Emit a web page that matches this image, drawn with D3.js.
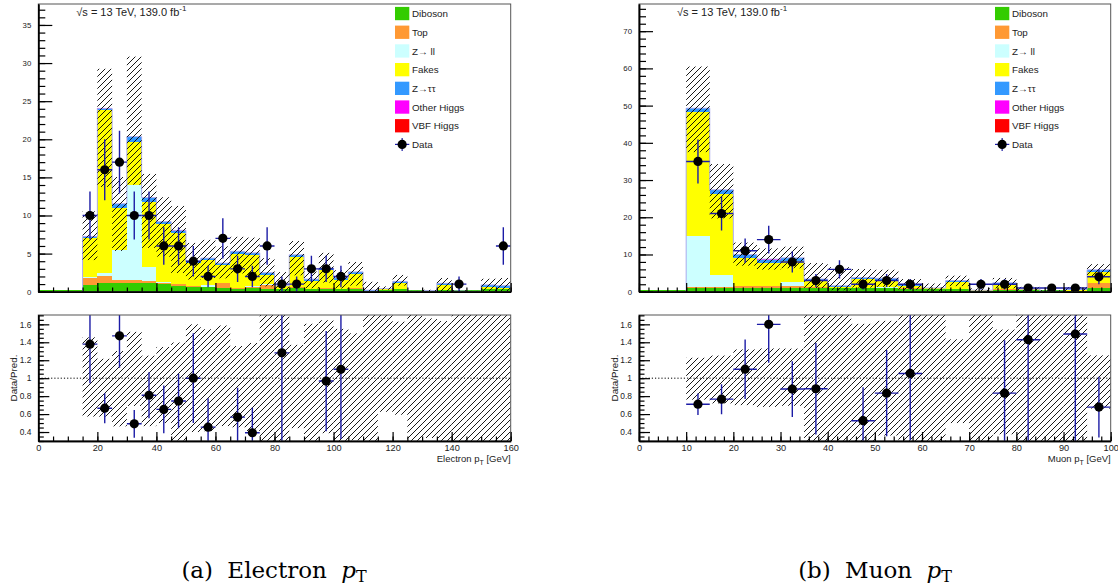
<!DOCTYPE html>
<html>
<head>
<meta charset="utf-8">
<script src="https://cdn.jsdelivr.net/npm/d3@7"></script>
<style>
  body { margin: 0; background: #fff; }
  svg { display: block; }
  text { font-family: "Liberation Sans", Arial, sans-serif; fill: #222; }
  text.caption { font-family: "DejaVu Serif", "Liberation Serif", serif; fill: #000; }
</style>
</head>
<body>
<svg id="chart" width="1118" height="585"></svg>
<script>
// stack components (bottom -> top) and legend
const stackKeys = ['Diboson', 'Top', 'Z\u2192 ll', 'Fakes', 'Z\u2192\u03c4\u03c4', 'Other Higgs', 'VBF Higgs'];
const stackColors = ['#33cc00', '#ff9933', '#ccffff', '#ffff00', '#3399ff', '#ff00ff', '#ff0000'];

// electron pT, 5 GeV bins (lower edges)
const elBinLo   = [15, 20, 25, 30, 35, 40, 45, 50, 55, 60, 65, 70, 75, 80, 85, 90, 95, 100, 105, 110, 115, 120, 125, 130, 135, 140, 145, 150, 155];
const elDiboson = [0.9, 1.1, 1.1, 1.1, 1.1, 1.0, 0.7, 0.6, 0.6, 0.5, 0.3, 0.55, 0.3, 0.3, 0.5, 0.4, 0.4, 0.4, 0.4, 0.1, 0.2, 0.3, 0.05, 0.05, 0.2, 0.1, 0.05, 0.3, 0.3];
const elTop     = [0.9, 1.0, 0.5, 0.5, 0.25, 0.2, 0.3, 0.1, 0.05, 0.6, 0.15, 0.1, 0.6, 0.05, 0.1, 0, 0.05, 0, 0.05, 0, 0, 0, 0, 0, 0, 0, 0, 0, 0];
const elZll     = [0.1, 0.3, 3.9, 12.4, 1.95, 0.1, 0.05, 0.1, 0.25, 0.05, 0.05, 0.05, 0.05, 0, 0, 0, 0, 0, 0, 0, 0, 0, 0, 0, 0, 0, 0, 0, 0];
const elFakes   = [5.1, 21.4, 5.5, 5.7, 8.5, 7.6, 6.6, 3.0, 3.3, 2.4, 4.4, 4.1, 1.3, 0.35, 3.9, 1.0, 2.4, 1.12, 1.9, 0.05, 0.1, 0.8, 0, 0, 0.7, 0, 0, 0.35, 0.2];
const elZtt     = [0.2, 0.2, 0.5, 0.6, 0.5, 0.2, 0.35, 0.2, 0.2, 0.2, 0.4, 0.3, 0.25, 0.08, 0.35, 0.25, 0.25, 0.3, 0.25, 0.05, 0, 0.25, 0, 0.1, 0.2, 0, 0, 0.25, 0.3];
const elOtherH  = [0.05, 0.05, 0.05, 0.05, 0.05, 0.1, 0.05, 0, 0, 0, 0, 0, 0, 0, 0, 0, 0, 0, 0, 0, 0.1, 0, 0, 0, 0, 0, 0, 0, 0];
const elVbfH    = [0, 0, 0, 0, 0, 0, 0, 0, 0, 0, 0, 0, 0, 0, 0, 0, 0, 0, 0, 0, 0, 0, 0, 0, 0, 0, 0, 0, 0];
const elErrUp   = [3.3, 5.2, 3.5, 10.5, 3.1, 3.2, 3.2, 2.4, 2.4, 2.2, 1.9, 2.0, 1.9, 1.8, 1.8, 1.0, 2.0, 1.0, 1.3, 1.1, 0.3, 0.85, 0.05, 0.1, 0.7, 0.1, 0.05, 0.8, 1.0];
const elErrDn   = [3.1, 10.3, 6.2, 6.3, 6.6, 4.6, 5.6, 2.4, 2.6, 2.0, 2.9, 3.0, 1.8, 0.78, 2.7, 1.2, 1.9, 1.4, 1.8, 0.2, 0.15, 0.55, 0.05, 0.1, 1.1, 0.1, 0.05, 0.9, 0.8];
const elDataX   = [17.5, 22.5, 27.5, 32.5, 37.5, 42.5, 47.5, 52.5, 57.5, 62.5, 67.5, 72.5, 77.5, 82.5, 87.5, 92.5, 97.5, 102.5, 142.5, 157.5];
const elDataY   = [10, 16, 17, 10, 10, 6, 6, 4, 2, 7, 3, 2, 6, 1, 1, 3, 3, 2, 1, 6];

// muon pT, 5 GeV bins (lower edges)
const muBinLo   = [10, 15, 20, 25, 30, 35, 40, 45, 50, 55, 60, 65, 70, 75, 80, 85, 90, 95];
const muDiboson = [0.9, 0.9, 0.9, 0.9, 0.9, 0.9, 0.9, 0.9, 0.9, 0.8, 0.6, 0.6, 0.3, 0.5, 0.4, 0.1, 0.3, 1.0];
const muTop     = [0.4, 0.4, 0.5, 0.5, 0.5, 0.3, 0.1, 0.1, 0.1, 0.1, 0, 0.1, 0, 0.1, 0, 0, 0, 1.3];
const muZll     = [13.6, 3.3, 0.1, 0.1, 1.3, 0, 0, 0, 0.2, 0, 0, 0, 0, 0, 0, 0, 0, 0];
const muFakes   = [33.5, 21.6, 7.6, 6.3, 5.6, 1.7, 0.3, 2.3, 1.9, 0.6, 0.3, 2.0, 0.1, 1.5, 0.2, 0, 0.2, 2.9];
const muZtt     = [0.9, 1.2, 0.9, 0.8, 0.8, 0.5, 0.3, 0.5, 0.5, 0.4, 0.1, 0.3, 0, 0.3, 0.1, 0, 0.17, 0.7];
const muOtherH  = [0, 0, 0, 0.15, 0, 0, 0, 0, 0, 0, 0, 0, 0, 0, 0, 0, 0, 0];
const muVbfH    = [0, 0, 0, 0, 0, 0, 0, 0, 0, 0, 0, 0, 0, 0, 0, 0, 0, 0];
const muErrUp   = [11.2, 6.9, 3.2, 2.9, 3.0, 4.3, 5.0, 2.3, 2.3, 1.5, 1.2, 1.3, 0.5, 1.3, 0.6, 0.3, 0.6, 1.5];
const muErrDn   = [11.8, 7.7, 3.0, 2.8, 2.8, 2.4, 1.2, 2.7, 2.3, 1.4, 0.8, 1.5, 0.3, 1.5, 0.5, 0.1, 0.5, 2.0];
const muDataX   = [12.5, 17.5, 22.5, 27.5, 32.5, 37.5, 42.5, 47.5, 52.5, 57.5, 72.5, 77.5, 82.5, 87.5, 92.5, 97.5];
const muDataY   = [35, 21, 11, 14, 8, 3, 6, 2, 3, 2, 2, 2, 1, 1, 1, 4];

// axis ticks
const elXTicks  = [0, 20, 40, 60, 80, 100, 120, 140, 160];
const muXTicks  = [0, 10, 20, 30, 40, 50, 60, 70, 80, 90, 100];
const elYTicks  = [0, 5, 10, 15, 20, 25, 30, 35];
const muYTicks  = [0, 10, 20, 30, 40, 50, 60, 70];
const ratioTicks  = [0.4, 0.6, 0.8, 1, 1.2, 1.4, 1.6];
const ratioLabels = ['0.4', '0.6', '0.8', '1', '1.2', '1.4', '1.6'];

const binWidth = 5;
const mainTop = 4, mainBottom = 291.7;
const ratioTop = 315, ratioBottom = 441;
const ratioDomain = [0.3, 1.704];
const errColor = '#1c1ca6';

const svg = d3.select('#chart');
const defs = svg.append('defs');
defs.append('pattern')
  .attr('id', 'hatch')
  .attr('patternUnits', 'userSpaceOnUse')
  .attr('width', 6).attr('height', 6)
  .append('path')
  .attr('d', 'M-1,1 l2,-2 M0,6 l6,-6 M5,7 l2,-2')
  .attr('stroke', '#000')
  .attr('stroke-width', 0.9);

function drawPanel(p) {
  const x = d3.scaleLinear().domain(p.xDomain).range([p.left, p.right]);
  const y = d3.scaleLinear().domain(p.yDomain).range([mainBottom, mainTop]);
  const yr = d3.scaleLinear().domain(ratioDomain).range([ratioBottom, ratioTop]);

  // clip regions
  defs.append('clipPath').attr('id', p.id + '-main')
    .append('rect').attr('x', p.left).attr('y', mainTop)
    .attr('width', p.right - p.left).attr('height', mainBottom - mainTop);
  defs.append('clipPath').attr('id', p.id + '-ratio')
    .append('rect').attr('x', p.left).attr('y', ratioTop)
    .attr('width', p.right - p.left).attr('height', ratioBottom - ratioTop);

  const rows = p.binLo.map((lo, i) => {
    const r = { lo: lo, hi: lo + binWidth, up: p.errUp[i], dn: p.errDn[i] };
    stackKeys.forEach((k, j) => { r[k] = p.series[j][i]; });
    r.total = d3.sum(stackKeys, k => r[k]);
    return r;
  });

  const main = svg.append('g').attr('clip-path', `url(#${p.id}-main)`);

  // zero-content baseline
  main.append('line')
    .attr('x1', p.left).attr('x2', p.right)
    .attr('y1', y(0) - 0.8).attr('y2', y(0) - 0.8)
    .attr('stroke', '#33cc00').attr('stroke-width', 1.6);

  // stacked backgrounds
  const stacked = d3.stack().keys(stackKeys)(rows);
  main.append('g').selectAll('g')
    .data(stacked)
    .join('g')
    .attr('fill', (d, i) => stackColors[i])
    .selectAll('rect')
    .data(d => d)
    .join('rect')
    .attr('shape-rendering', 'crispEdges')
    .attr('x', d => x(d.data.lo))
    .attr('width', d => x(d.data.hi) - x(d.data.lo))
    .attr('y', d => y(d[1]))
    .attr('height', d => Math.max(0, y(d[0]) - y(d[1])));

  // total outline
  const outline = [];
  rows.forEach(r => { outline.push([r.lo, r.total], [r.hi, r.total]); });
  outline.unshift([rows[0].lo, 0]);
  outline.push([rows[rows.length - 1].hi, 0]);
  main.append('path')
    .attr('d', d3.line().x(d => x(d[0])).y(d => y(d[1]))(outline))
    .attr('fill', 'none')
    .attr('stroke', '#aaaaee')
    .attr('stroke-width', 1);

  // uncertainty band
  main.append('g').selectAll('rect')
    .data(rows)
    .join('rect')
    .attr('x', d => x(d.lo))
    .attr('width', d => x(d.hi) - x(d.lo))
    .attr('y', d => y(d.total + d.up))
    .attr('height', d => y(Math.max(0, d.total - d.dn)) - y(d.total + d.up))
    .attr('fill', 'url(#hatch)');

  // data points
  const pts = p.dataX.map((c, i) => ({ c: c, v: p.dataY[i], e: Math.sqrt(p.dataY[i]) }));
  const dg = main.append('g');
  dg.selectAll('line.v').data(pts).join('line').attr('class', 'v')
    .attr('x1', d => x(d.c)).attr('x2', d => x(d.c))
    .attr('y1', d => y(d.v + d.e)).attr('y2', d => y(Math.max(0, d.v - d.e)))
    .attr('stroke', errColor).attr('stroke-width', 1.4);
  dg.selectAll('line.h').data(pts).join('line').attr('class', 'h')
    .attr('x1', d => x(d.c - binWidth / 2)).attr('x2', d => x(d.c + binWidth / 2))
    .attr('y1', d => y(d.v)).attr('y2', d => y(d.v))
    .attr('stroke', errColor).attr('stroke-width', 1.4);
  dg.selectAll('circle').data(pts).join('circle')
    .attr('cx', d => x(d.c)).attr('cy', d => y(d.v)).attr('r', 4.6)
    .attr('fill', '#000');

  // ---- ratio panel ----
  const rg = svg.append('g').attr('clip-path', `url(#${p.id}-ratio)`);
  rg.append('g').selectAll('rect')
    .data(rows.filter(r => r.total > 0))
    .join('rect')
    .attr('x', d => x(d.lo))
    .attr('width', d => x(d.hi) - x(d.lo))
    .attr('y', d => yr(Math.min(3, (d.total + d.up) / d.total)))
    .attr('height', d => yr(Math.max(0, (d.total - d.dn) / d.total)) - yr(Math.min(3, (d.total + d.up) / d.total)))
    .attr('fill', 'url(#hatch)');

  rg.append('line')
    .attr('x1', p.left).attr('x2', p.right)
    .attr('y1', yr(1)).attr('y2', yr(1))
    .attr('stroke', '#000').attr('stroke-width', 1)
    .attr('stroke-dasharray', '1.2,2');

  const rpts = pts.map(d => {
    const row = rows.find(r => d.c > r.lo && d.c < r.hi);
    const pred = row ? row.total : 0;
    return { c: d.c, r: pred > 0 ? d.v / pred : Infinity, e: pred > 0 ? d.e / pred : 0 };
  }).filter(d => d.r >= ratioDomain[0] && d.r <= ratioDomain[1]);

  rg.selectAll('line.v').data(rpts).join('line').attr('class', 'v')
    .attr('x1', d => x(d.c)).attr('x2', d => x(d.c))
    .attr('y1', d => yr(d.r + d.e)).attr('y2', d => yr(d.r - d.e))
    .attr('stroke', errColor).attr('stroke-width', 1.4);
  rg.selectAll('line.h').data(rpts).join('line').attr('class', 'h')
    .attr('x1', d => x(d.c - binWidth / 2)).attr('x2', d => x(d.c + binWidth / 2))
    .attr('y1', d => yr(d.r)).attr('y2', d => yr(d.r))
    .attr('stroke', errColor).attr('stroke-width', 1.4);
  rg.selectAll('circle').data(rpts).join('circle')
    .attr('cx', d => x(d.c)).attr('cy', d => yr(d.r)).attr('r', 4.6)
    .attr('fill', '#000');

  // ---- frames ----
  [[mainTop, mainBottom], [ratioTop, ratioBottom]].forEach(([t, b]) => {
    svg.append('rect')
      .attr('x', p.left).attr('y', t)
      .attr('width', p.right - p.left).attr('height', b - t)
      .attr('fill', 'none').attr('stroke', '#555').attr('stroke-width', 1);
  });

  // ---- axes ----
  const styleAxis = (g, fs) => {
    g.selectAll('.domain').attr('stroke', '#000').attr('stroke-width', 1.5);
    g.selectAll('.tick line').attr('stroke', '#000').attr('stroke-width', 1.2);
    g.selectAll('text').attr('font-size', fs).attr('fill', '#333')
      .attr('font-family', '"Liberation Sans", Arial, sans-serif');
  };

  // main y
  svg.append('g').attr('transform', `translate(${p.left},0)`)
    .call(d3.axisLeft(y).tickValues(p.yMinor).tickSize(-7).tickSizeOuter(0).tickFormat(''))
    .call(g => styleAxis(g, 7.5));
  svg.append('g').attr('transform', `translate(${p.left},0)`)
    .call(d3.axisLeft(y).tickValues(p.yTicks).tickSize(-14).tickSizeOuter(0).tickPadding(7))
    .call(g => styleAxis(g, 7.8));

  // main x (no labels)
  svg.append('g').attr('transform', `translate(0,${mainBottom})`)
    .call(d3.axisBottom(x).tickValues(p.xMinor).tickSize(-4.3).tickSizeOuter(0).tickFormat(''))
    .call(g => styleAxis(g, 8));
  svg.append('g').attr('transform', `translate(0,${mainBottom})`)
    .call(d3.axisBottom(x).tickValues(p.xTicks).tickSize(-8.6).tickSizeOuter(0).tickFormat(''))
    .call(g => styleAxis(g, 8));

  // ratio y
  svg.append('g').attr('transform', `translate(${p.left},0)`)
    .call(d3.axisLeft(yr).tickValues(p.rMinor).tickSize(-5.5).tickSizeOuter(0).tickFormat(''))
    .call(g => styleAxis(g, 8));
  svg.append('g').attr('transform', `translate(${p.left},0)`)
    .call(d3.axisLeft(yr).tickValues(ratioTicks).tickSize(-11).tickSizeOuter(0).tickPadding(7)
      .tickFormat((d, i) => ratioLabels[i]))
    .call(g => styleAxis(g, 8.4));

  // ratio x
  svg.append('g').attr('transform', `translate(0,${ratioBottom})`)
    .call(d3.axisBottom(x).tickValues(p.xMinor).tickSize(-4.5).tickSizeOuter(0).tickFormat(''))
    .call(g => styleAxis(g, 9));
  svg.append('g').attr('transform', `translate(0,${ratioBottom})`)
    .call(d3.axisBottom(x).tickValues(p.xTicks).tickSize(-9).tickSizeOuter(0).tickPadding(3))
    .call(g => styleAxis(g, 9.2));

  // axis titles
  const xt = svg.append('text')
    .attr('x', p.right).attr('y', 462)
    .attr('text-anchor', 'end')
    .attr('font-size', 9.5).attr('fill', '#333');
  xt.append('tspan').text(p.xName + ' p');
  xt.append('tspan').text('T').attr('font-size', 7).attr('dy', 3);
  xt.append('tspan').text(' [GeV]').attr('dy', -3);

  svg.append('text')
    .attr('transform', `translate(${p.left - 21},${(ratioTop + ratioBottom) / 2}) rotate(-90)`)
    .attr('text-anchor', 'middle')
    .attr('font-size', 9.8).attr('fill', '#333')
    .text('Data/Pred.');

  // energy / lumi label
  const lab = svg.append('text')
    .attr('x', p.left + 38).attr('y', 16)
    .attr('font-size', 11).attr('fill', '#111');
  lab.append('tspan').text('\u221as = 13 TeV, 139.0 fb');
  lab.append('tspan').text('-1').attr('font-size', 8).attr('dy', -5);

  // legend
  const leg = svg.append('g').attr('transform', `translate(${p.legX},13.5)`);
  stackKeys.forEach((k, i) => {
    leg.append('rect')
      .attr('x', 0).attr('y', i * 18.7 - 6.6)
      .attr('width', 14.3).attr('height', 13.3)
      .attr('fill', stackColors[i]);
    leg.append('text')
      .attr('x', 17).attr('y', i * 18.7 + 3.6)
      .attr('font-size', 9.8).attr('fill', '#333')
      .text(k);
  });
  const dy = stackKeys.length * 18.7;
  leg.append('line').attr('x1', 0).attr('x2', 14.3).attr('y1', dy).attr('y2', dy)
    .attr('stroke', errColor).attr('stroke-width', 1.2);
  leg.append('line').attr('x1', 7.15).attr('x2', 7.15).attr('y1', dy - 6.5).attr('y2', dy + 6.5)
    .attr('stroke', errColor).attr('stroke-width', 1.2);
  leg.append('circle').attr('cx', 7.15).attr('cy', dy).attr('r', 4.6).attr('fill', '#000');
  leg.append('text')
    .attr('x', 17).attr('y', dy + 3.6)
    .attr('font-size', 9.8).attr('fill', '#333')
    .text('Data');

  // caption
  const cap = svg.append('text')
    .attr('class', 'caption')
    .attr('x', p.capX).attr('y', 578)
    .attr('text-anchor', 'middle')
    .attr('font-size', 23)
    .attr('word-spacing', 7);
  cap.append('tspan').text(p.caption + ' ');
  cap.append('tspan').text('p').attr('font-style', 'italic');
  cap.append('tspan').text('T').attr('font-size', 16).attr('dy', 4);
}

drawPanel({
  id: 'el',
  left: 38.3, right: 510.7,
  xDomain: [0, 160], yDomain: [0, 37.75],
  xTicks: elXTicks, xMinor: d3.range(0, 161, 5),
  yTicks: elYTicks, yMinor: d3.range(0, 38, 1),
  rMinor: d3.range(0.3, 1.71, 0.05),
  binLo: elBinLo,
  series: [elDiboson, elTop, elZll, elFakes, elZtt, elOtherH, elVbfH],
  errUp: elErrUp, errDn: elErrDn,
  dataX: elDataX, dataY: elDataY,
  legX: 395, xName: 'Electron',
  capX: 274, caption: '(a) Electron'
});

drawPanel({
  id: 'mu',
  left: 639, right: 1110.7,
  xDomain: [0, 100], yDomain: [0, 77.3],
  xTicks: muXTicks, xMinor: d3.range(0, 101, 2),
  yTicks: muYTicks, yMinor: d3.range(0, 78, 2),
  rMinor: d3.range(0.3, 1.71, 0.05),
  binLo: muBinLo,
  series: [muDiboson, muTop, muZll, muFakes, muZtt, muOtherH, muVbfH],
  errUp: muErrUp, errDn: muErrDn,
  dataX: muDataX, dataY: muDataY,
  legX: 995, xName: 'Muon',
  capX: 875, caption: '(b) Muon'
});
</script>
</body>
</html>
